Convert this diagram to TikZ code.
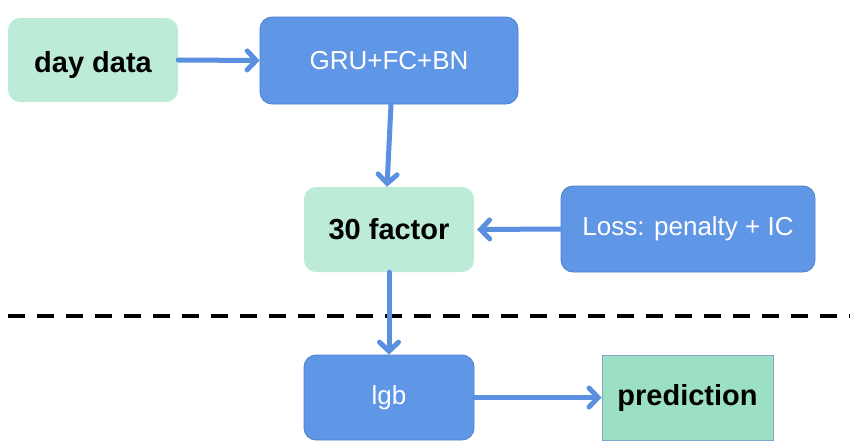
\documentclass[tikz,border=0pt]{standalone}
\usepackage{fontspec}
\setmainfont{Liberation Sans}
\usetikzlibrary{arrows.meta}
\definecolor{mint}{HTML}{BCEBD7}
\definecolor{bluebox}{HTML}{6096E6}
\definecolor{blueedge}{HTML}{4E7FCF}
\definecolor{predfill}{HTML}{9CE0C4}
\definecolor{prededge}{HTML}{7EA6C9}
\definecolor{arrowc}{HTML}{5B8FE0}
\tikzset{
  mintbox/.style={fill=mint, draw=none, rounded corners=12pt, inner sep=0pt, font=\fontsize{29}{33}\selectfont\bfseries, text=black},
  bluenode/.style={fill=bluebox, draw=blueedge, line width=0.8pt, rounded corners=12pt, inner sep=0pt, font=\fontsize{26}{30}\selectfont, text=white},
  predbox/.style={fill=predfill, draw=prededge, line width=1pt, inner sep=0pt, font=\fontsize{29}{33}\selectfont\bfseries, text=black},
  conn/.style={draw=arrowc, line width=5pt, line cap=round, -{Straight Barb[length=9pt,width=19pt,line cap=round]}},
}
\begin{document}
\begin{tikzpicture}[x=1pt,y=-1pt]
\useasboundingbox (0,0) rectangle (858,447);
\node[mintbox, minimum width=170pt, minimum height=84pt, text depth=0pt] (day) at (93,60) {\raisebox{-4pt}{day data}};
\node[bluenode, minimum width=258pt, minimum height=87pt] (gru) at (389,60.5) {\raisebox{-2pt}{GRU+FC+BN}};
\node[mintbox, minimum width=170pt, minimum height=85pt] (fac) at (389,229.5) {\raisebox{-2pt}{30 factor}};
\node[bluenode, minimum width=254pt, minimum height=86pt] (loss) at (688,229) {\raisebox{-2pt}{Loss: penalty + IC}};
\node[bluenode, minimum width=170pt, minimum height=85pt] (lgb) at (389,397.5) {\raisebox{-2pt}{lgb}};
\node[predbox, minimum width=171pt, minimum height=85pt] (pred) at (687.5,397.5) {\raisebox{-2pt}{prediction}};
\coordinate (dl) at (8,316);
\coordinate (dr) at (850,316);
\draw[black, line width=3.5pt, dash pattern=on 17pt off 12pt] (dl) -- (dr);
\draw[conn] (day.east) -- (gru.west);
\draw[conn] ([xshift=2pt]gru.south) -- ([xshift=-2pt]fac.north);
\draw[conn] (loss.west) -- ([xshift=3pt]fac.east);
\draw[conn] (fac.south) -- (lgb.north);
\draw[conn] (lgb.east) -- (pred.west);
\end{tikzpicture}
\end{document}
